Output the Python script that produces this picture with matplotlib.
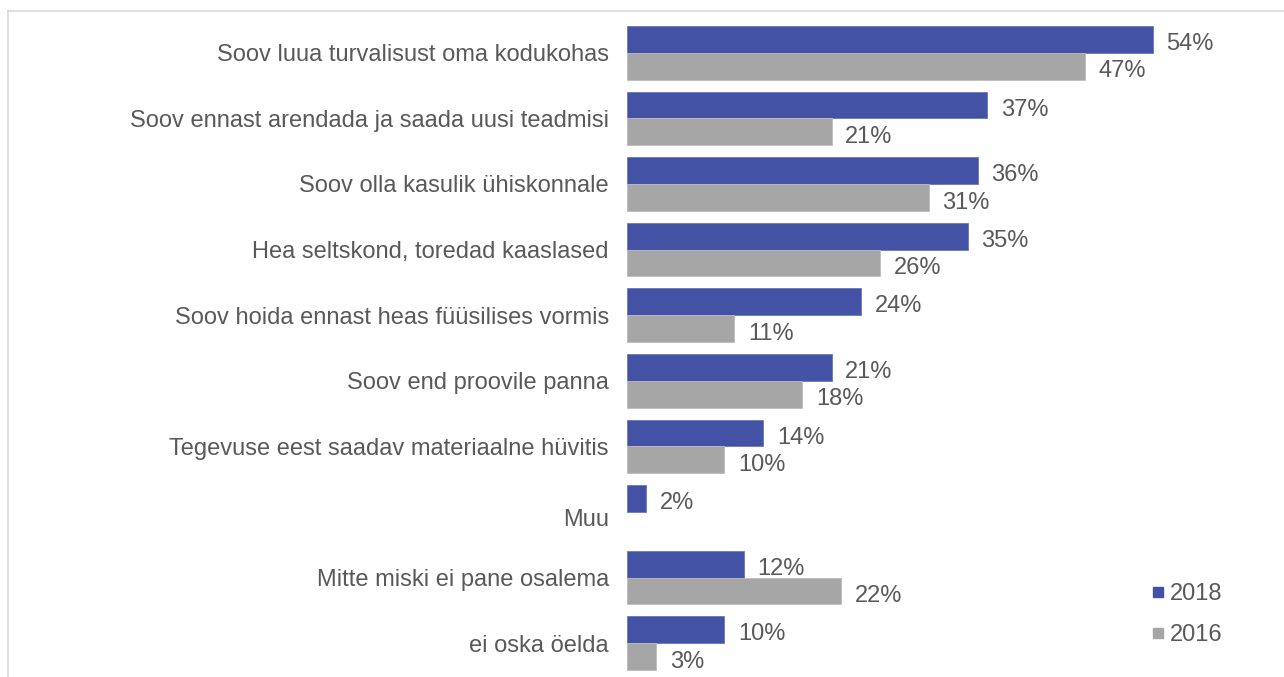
import numpy as np
import matplotlib.pyplot as plt
from matplotlib.lines import Line2D

categories = [
    'Soov luua turvalisust oma kodukohas',
    'Soov ennast arendada ja saada uusi teadmisi',
    'Soov olla kasulik ühiskonnale',
    'Hea seltskond, toredad kaaslased',
    'Soov hoida ennast heas füüsilises vormis',
    'Soov end proovile panna',
    'Tegevuse eest saadav materiaalne hüvitis',
    'Muu',
    'Mitte miski ei pane osalema',
    'ei oska öelda',
]
v2018 = [54, 37, 36, 35, 24, 21, 14, 2, 12, 10]
v2016 = [47, 21, 31, 26, 11, 18, 10, None, 22, 3]

blue = '#4352A4'
grey = '#A6A6A6'
txt = '#595959'

plt.rcParams['font.family'] = ['Liberation Sans', 'DejaVu Sans']

fig = plt.figure(figsize=(12.84, 6.77), dpi=100)
ax = fig.add_axes([627 / 1284, 1 - 676 / 677, (1240 - 627) / 1284, (676 - 20) / 677])

y = np.arange(len(categories))
h = 0.41
for i in range(len(categories)):
    ax.barh(y[i] - h / 2, v2018[i], height=h, color=blue, edgecolor='#6A77BA', linewidth=0.6)
    ax.text(v2018[i] + 1.4, y[i] - h / 2 + 0.07, f'{v2018[i]}%', va='center', ha='left',
            fontsize=17, color=txt)
    if v2016[i] is not None:
        ax.barh(y[i] + h / 2, v2016[i], height=h, color=grey, edgecolor='#BDBDBD', linewidth=0.6)
        ax.text(v2016[i] + 1.4, y[i] + h / 2 + 0.08, f'{v2016[i]}%', va='center', ha='left',
                fontsize=17, color=txt)

ax.set_xlim(0, (1240 - 627) / 9.74)
ax.set_ylim(len(categories) - 0.5, -0.5)
ax.set_yticks(y)
# "Muu" label sits a little lower in the original, so draw it separately
labels = [c if c != 'Muu' else '' for c in categories]
ax.set_yticklabels(labels, fontsize=17, color=txt)
k = categories.index('Muu')
ax.annotate(categories[k], xy=(0, y[k] + 0.12), xytext=(-13, 0), textcoords='offset points',
            ha='right', va='center', fontsize=17, color=txt)
ax.tick_params(axis='y', length=0, pad=13)
ax.set_xticks([])
for s in ax.spines.values():
    s.set_visible(False)

handles = [Line2D([], [], marker='s', linestyle='', color=blue, markersize=6.5),
           Line2D([], [], marker='s', linestyle='', color=grey, markersize=6.5)]
fig.legend(handles, ['2018', '2016'], loc='upper left', bbox_to_anchor=(1125 / 1284, 1 - 562 / 677),
           frameon=False, fontsize=17, labelcolor=txt, handletextpad=0.0, labelspacing=0.8,
           handlelength=1.0)

# light frame around the chart (top and left edges visible)
fig.add_artist(Line2D([8 / 1284, 8 / 1284], [0, 1 - 11 / 677], color='#D9D9D9', lw=1.2,
                      transform=fig.transFigure))
fig.add_artist(Line2D([8 / 1284, 1], [1 - 11 / 677, 1 - 11 / 677], color='#D9D9D9', lw=1.2,
                      transform=fig.transFigure))

fig.savefig('out.png', dpi=100)
